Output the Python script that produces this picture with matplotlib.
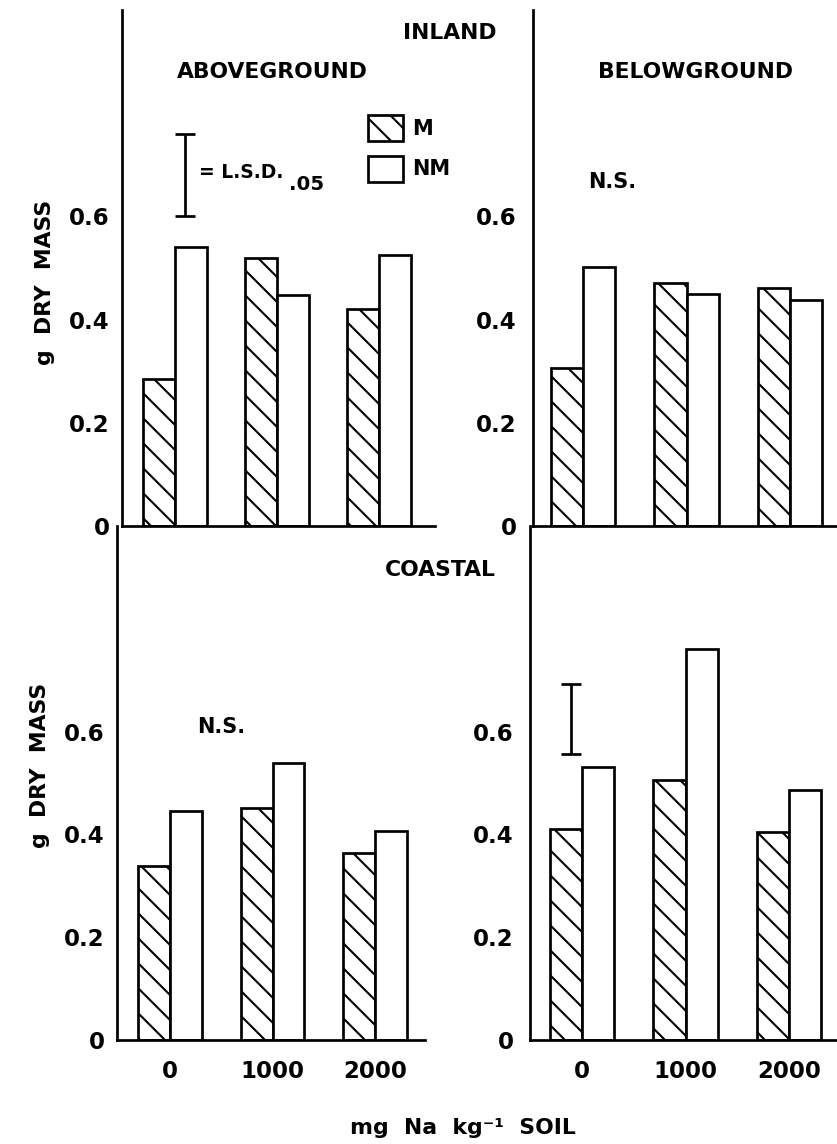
import matplotlib
matplotlib.use("Agg")
import matplotlib.pyplot as plt
from matplotlib.patches import Patch

# canvas: 837 x 1144 px
W, H = 837, 1144
DPI = 150

plt.rcParams['font.family'] = ['DejaVu Sans']
plt.rcParams['font.weight'] = 'bold'
plt.rcParams['hatch.linewidth'] = 1.0

# data (g dry mass)
na_levels = ["0", "1000", "2000"]
inland_above_m = [0.285, 0.52, 0.42]
inland_above_nm = [0.54, 0.448, 0.525]
inland_below_m = [0.306, 0.471, 0.461]
inland_below_nm = [0.502, 0.45, 0.438]
coastal_above_m = [0.339, 0.452, 0.363]
coastal_above_nm = [0.446, 0.538, 0.407]
coastal_below_m = [0.411, 0.505, 0.405]
coastal_below_nm = [0.532, 0.76, 0.487]

y_ticks = [0, 0.2, 0.4, 0.6]
y_tick_labels = ["0", "0.2", "0.4", "0.6"]

# least significant differences (bottom end, length)
lsd_inland_above = (0.60, 0.16)
lsd_coastal_below = (0.557, 0.135)

BAR_W = 0.31
LW = 1.3
HATCH = '\\\\'

fig = plt.figure(figsize=(W / DPI, H / DPI), dpi=DPI)


def panel(x0, x1, y_top, y_bot, c0, step, m, nm, xlabels, ypad):
    ax = fig.add_axes([x0 / W, 1 - y_bot / H, (x1 - x0) / W, (y_bot - y_top) / H])
    ax.patch.set_visible(False)
    ax.set_xlim((x0 - c0) / step, (x1 - c0) / step)
    ax.set_ylim(0, 1.0)
    xs = range(len(na_levels))
    ax.bar(xs, m, width=-BAR_W, align='edge', facecolor='white',
           edgecolor='black', linewidth=LW, hatch=HATCH, zorder=2)
    ax.bar(xs, nm, width=BAR_W, align='edge', facecolor='white',
           edgecolor='black', linewidth=LW, zorder=2)
    for s in ('top', 'right'):
        ax.spines[s].set_visible(False)
    for s in ('left', 'bottom'):
        ax.spines[s].set_linewidth(LW)
        ax.spines[s].set_zorder(3)
    ax.set_yticks(y_ticks)
    ax.set_yticklabels(y_tick_labels, fontsize=11, fontweight='bold')
    ax.tick_params(axis='y', length=0, pad=ypad)
    ax.set_xticks(list(xs))
    if xlabels:
        ax.set_xticklabels(na_levels, fontsize=11, fontweight='bold')
        ax.tick_params(axis='x', length=0, pad=9.5)
    else:
        ax.set_xticklabels([])
        ax.tick_params(axis='x', length=0)
    return ax


def lsd(ax, x, spec):
    lo, length = spec
    ax.errorbar([x], [lo + length / 2], yerr=[length / 2], fmt='none',
                ecolor='black', elinewidth=LW, capsize=4.8, capthick=LW)


ax_tl = panel(122, 435, 10, 526, 175, 102, inland_above_m, inland_above_nm, False, 5.8)
ax_tr = panel(533, 837, 10, 526, 583, 103.5, inland_below_m, inland_below_nm, False, 7.7)
ax_bl = panel(117, 425, 526, 1040, 170, 102.5, coastal_above_m, coastal_above_nm, True, 5.8)
ax_br = panel(530, 837, 526, 1040, 582, 103.5, coastal_below_m, coastal_below_nm, True, 7.7)

lsd(ax_tl, 0.10, lsd_inland_above)
lsd(ax_br, -0.11, lsd_coastal_below)


def ftext(x, y, s, size=10.5, **kw):
    fig.text(x / W, 1 - y / H, s, fontsize=size, fontweight='bold',
             va='center', **kw)


ftext(403, 33, "INLAND")
ftext(177, 72, "ABOVEGROUND")
ftext(598, 72, "BELOWGROUND")
ftext(385, 570, "COASTAL")
ftext(588, 182, "N.S.", size=10)
ftext(197, 727, "N.S.", size=10)
ftext(199, 172, "= L.S.D.", size=9)
ftext(289, 184, ".05", size=9.5)
ftext(45, 282, "g  DRY  MASS", size=10.5, rotation=90, ha='center')
ftext(40, 765, "g  DRY  MASS", size=10.5, rotation=90, ha='center')
ftext(463, 1128, "mg  Na  kg\u207b\u00b9  SOIL", size=10.5, ha='center')

handles = [Patch(facecolor='white', edgecolor='black', hatch=HATCH, linewidth=LW, label='M'),
           Patch(facecolor='white', edgecolor='black', linewidth=LW, label='NM')]
fig.legend(handles=handles, loc='upper left', bbox_to_anchor=(368 / W, 1 - 115 / H),
           frameon=False, borderpad=0, borderaxespad=0, handlelength=1.68,
           handleheight=1.54, labelspacing=0.7, handletextpad=0.45,
           prop={'weight': 'bold', 'size': 10})

fig.savefig("out.png", dpi=DPI)
